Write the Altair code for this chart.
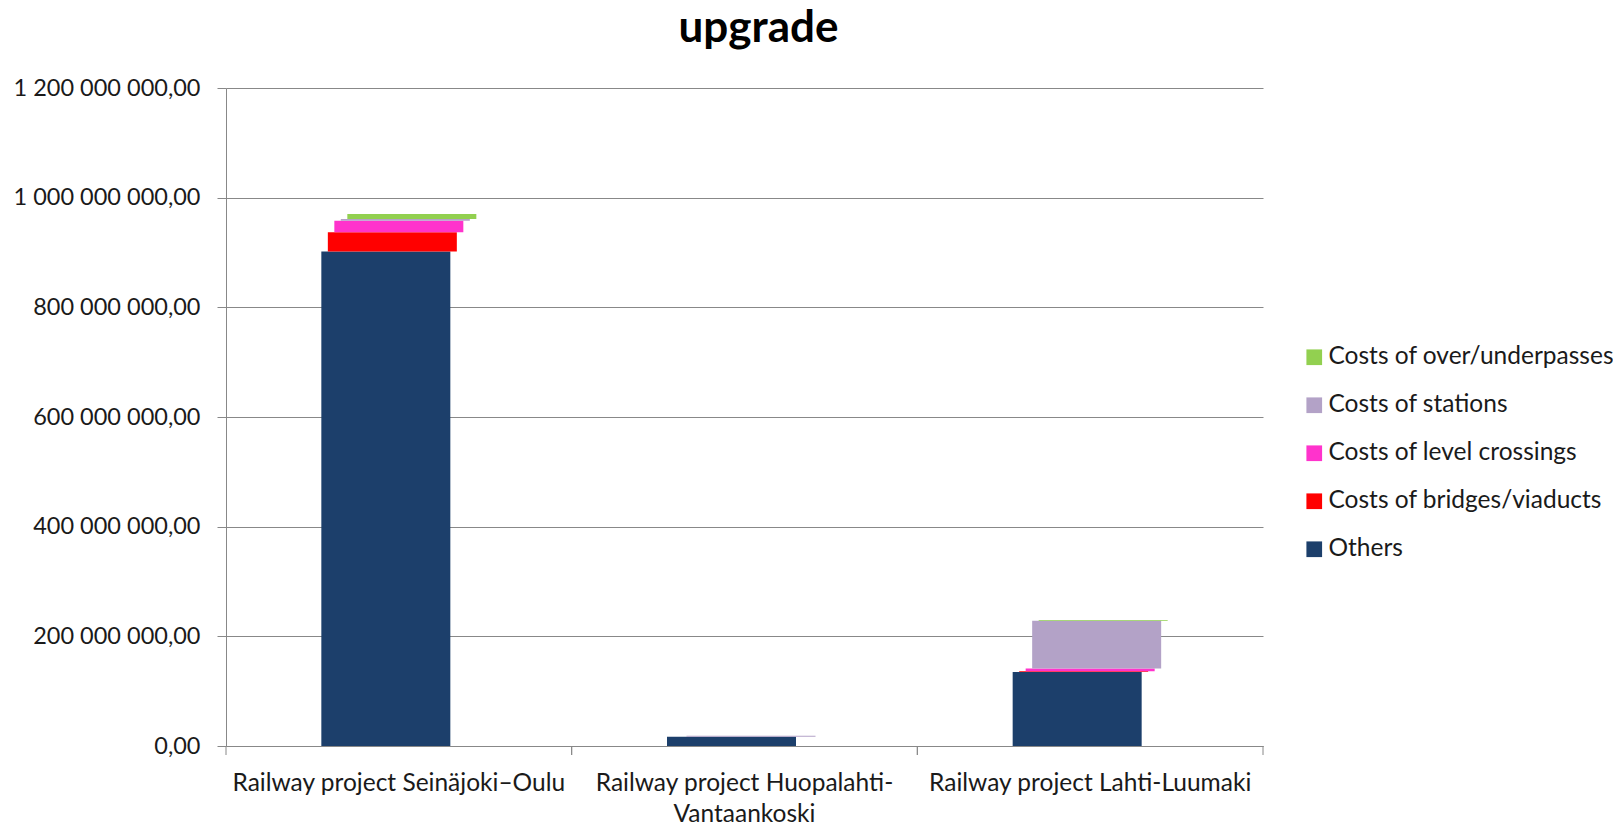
import altair as alt
import pandas as pd

categories = [
    "Railway project Seinäjoki–Oulu",
    "Railway project Huopalahti-Vantaankoski",
    "Railway project Lahti-Luumaki",
]
series = [
    "Others",
    "Costs of bridges/viaducts",
    "Costs of level crossings",
    "Costs of stations",
    "Costs of over/underpasses",
]
others = [902e6, 17e6, 135e6]
bridges = [35e6, 0.0, 1.5e6]
crossings = [20.7e6, 0.0, 5e6]
stations = [3.3e6, 1.5e6, 87e6]
overpasses = [9e6, 0.0, 1.5e6]

legend_order = [
    "Costs of over/underpasses",
    "Costs of stations",
    "Costs of level crossings",
    "Costs of bridges/viaducts",
    "Others",
]
legend_colors = ["#92D050", "#B3A2C7", "#FF33CC", "#FF0000", "#1C3F6B"]
y_ticks = [0, 2e8, 4e8, 6e8, 8e8, 1e9, 1.2e9]

values = [others, bridges, crossings, stations, overpasses]
rows = []
for k, s in enumerate(series):
    for i, c in enumerate(categories):
        rows.append({"category": c, "series": s, "order": k, "value": values[k][i]})
df = pd.DataFrame(rows)

FONT = "Lato"
W, H = 1037, 658
BAR_W = 129
STEP = 6.5

xscale = alt.Scale(domain=categories, paddingInner=0, paddingOuter=0)
yscale = alt.Scale(domain=[0, 1.2e9], nice=False)
cscale = alt.Scale(domain=legend_order, range=legend_colors)

label_expr = (
    "datum.label == 'Railway project Huopalahti-Vantaankoski' ? "
    "['Railway project Huopalahti-', 'Vantaankoski'] : datum.label"
)

xaxis = alt.Axis(
    title=None, ticks=False, labelAngle=0, labelFont=FONT, labelFontSize=24.5,
    labelColor="#1a1a1a", labelPadding=25, labelLineHeight=31,
    labelExpr=label_expr, domainColor="#888888", labelLimit=0,
)
yaxis = alt.Axis(
    title=None, values=y_ticks, format=",.2f", labelFont=FONT, labelFontSize=23.5,
    labelColor="#1a1a1a", tickSize=9, tickColor="#888888", labelPadding=17,
    labelLimit=0, domainColor="#888888", gridColor="#888888", gridWidth=1,
)

base = alt.Chart(df).transform_stack(
    stack="value", groupby=["category"], as_=["y0", "y1"],
    sort=[alt.SortField("order", order="ascending")],
)

layers = []
for k, s in enumerate(series):
    layers.append(
        base.transform_filter(alt.datum.series == s)
        .mark_bar(width=BAR_W, xOffset=(k - 2) * STEP)
        .encode(
            x=alt.X("category:N", scale=xscale, sort=categories, axis=xaxis),
            y=alt.Y("y0:Q", scale=yscale, axis=yaxis),
            y2="y1:Q",
            color=alt.Color(
                "series:N", scale=cscale,
                legend=alt.Legend(
                    title=None, orient="none", legendX=1076, legendY=257,
                    symbolType="square", symbolSize=246, symbolStrokeWidth=0,
                    labelFont=FONT, labelFontSize=24.5, labelColor="#1a1a1a",
                    rowPadding=23, labelOffset=2, labelLimit=0,
                ),
            ),
        )
    )

bounds = pd.DataFrame({"category": categories})
tick0 = alt.Chart(bounds).mark_rule(color="#888888").encode(
    x=alt.X("category:N", scale=xscale, sort=categories, bandPosition=0, axis=xaxis),
    y=alt.value(H), y2=alt.value(H + 9),
)
tick1 = alt.Chart(bounds).mark_rule(color="#888888").encode(
    x=alt.X("category:N", scale=xscale, sort=categories, bandPosition=1, axis=xaxis),
    y=alt.value(H), y2=alt.value(H + 9),
)

chart = (
    alt.layer(*layers, tick0, tick1)
    .properties(
        width=W, height=H,
        autosize=alt.AutoSizeParams(type="none"),
        padding={"left": 218, "top": 80, "right": 350, "bottom": 80},
        title=alt.TitleParams(
            "upgrade", font=FONT, fontSize=44, fontWeight="bold", color="#000000",
            anchor="middle", dx=14, offset=25,
        ),
    )
    .configure(locale={"number": {"decimal": ",", "thousands": " ", "grouping": [3], "currency": ["", ""]}})
    .configure_view(stroke=None)
)

chart.save("out.html", embed_options={"renderer": "svg", "actions": False})
